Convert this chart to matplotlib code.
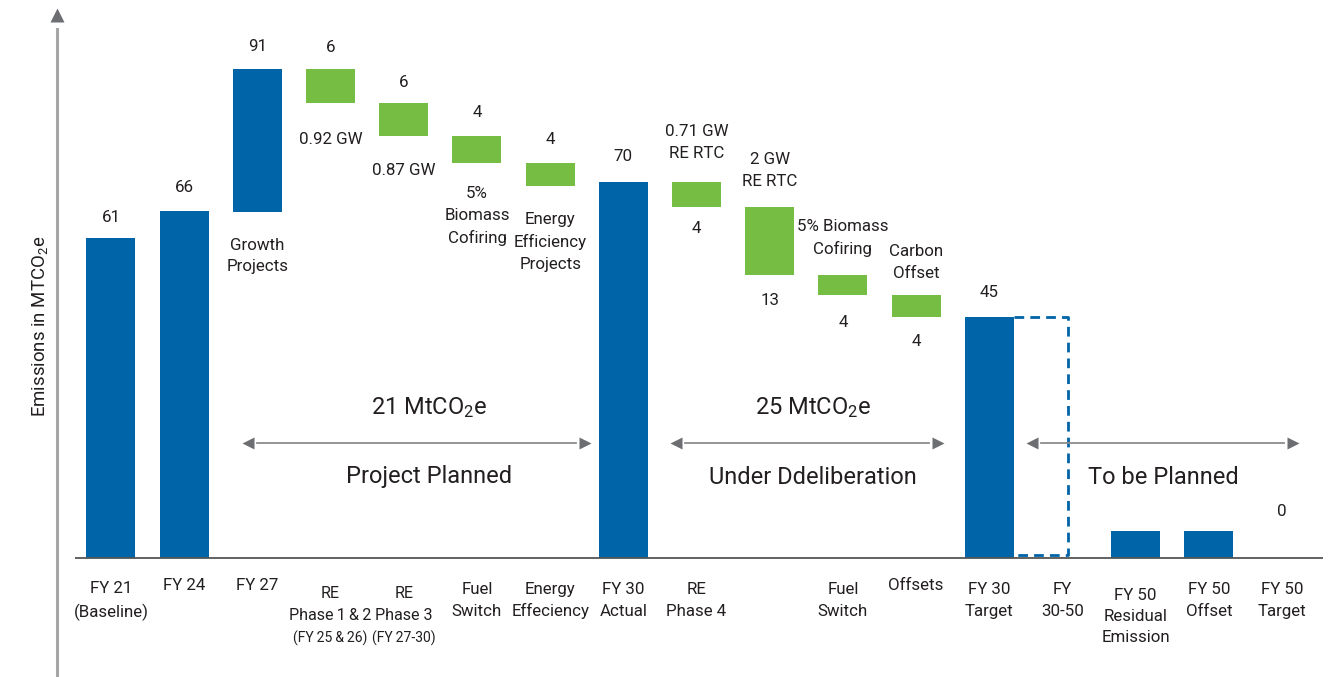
import matplotlib
matplotlib.use("Agg")
import matplotlib.pyplot as plt

plt.rcParams['font.family'] = ['Roboto', 'DejaVu Sans']
plt.rcParams['mathtext.fontset'] = 'custom'
plt.rcParams['mathtext.rm'] = 'Roboto'
plt.rcParams['mathtext.it'] = 'Roboto:italic'

TS = "\u2009"  # thin space for the crowded labels

# ---------------- data ----------------
categories = ["FY 21\n(Baseline)", "FY 24", "FY 27",
              "RE\nPhase" + TS + "1" + TS + "&" + TS + "2\n(FY" + TS + "25" + TS + "&" + TS + "26)",
              "RE\nPhase 3\n(FY" + TS + "27-30)", "Fuel\nSwitch", "Energy\nEffeciency",
              "FY 30\nActual", "RE\nPhase 4", "", "Fuel\nSwitch", "Offsets",
              "FY 30\nTarget", "FY\n30-50", "FY 50\nResidual\nEmission",
              "FY 50\nOffset", "FY 50\nTarget"]
# drawn extents
bar_bottom = [0, 0, 64.5, 84.8, 78.5, 73.5, 69.3, 0, 65.4, 52.6, 48.9, 44.9, 0, 0, 0, 0, 0]
bar_top = [59.6, 64.6, 91.1, 91.1, 84.8, 78.5, 73.5, 70.0, 70.0, 65.4, 52.6, 48.9, 44.9, 44.9, 5.0, 5.0, 0]
bar_kind = ["total", "total", "total", "cut", "cut", "cut", "cut", "total", "cut", "cut",
            "cut", "cut", "total", "planned", "total", "total", "none"]
value_labels = ["61", "66", "91", "6", "6", "4", "4", "70", "4", "13", "4", "4", "45", "", "", "", "0"]
note_labels = ["", "", "Growth\nProjects", "0.92 GW", "0.87 GW", "5%\nBiomass\nCofiring",
               "Energy\nEfficiency\nProjects", "", "0.71 GW\nRE RTC", "2 GW\nRE RTC",
               "5% Biomass\nCofiring", "Carbon\nOffset", "", "", "", "", ""]
group_names = ["Project Planned", "Under Ddeliberation", "To be Planned"]
group_totals = ["21 MtCO$_\\mathrm{2}$e", "25 MtCO$_\\mathrm{2}$e", ""]
y_label = "Emissions in MTCO$_\\mathrm{2}$e"

BLUE = "#0064A8"
GREEN = "#76BE43"
GREY = "#6D6E71"
TXT = "#231F20"

# ---------------- layout helpers (pixel -> data mapping) ----------------
W, H = 1335, 677
X0, DX = 111.0, 73.19     # px of first category, px per category
Y0, DY = 558.0, 5.371     # px of zero line, px per unit


def X(px):
    return (px - X0) / DX


def Y(py):
    return (Y0 - py) / DY


fig = plt.figure(figsize=(W / 100, H / 100), dpi=100)
ax = fig.add_axes([0, 0, 1, 1])
ax.set_xlim(X(0), X(W))
ax.set_ylim(Y(H), Y(0))
ax.axis('off')

bw = 49 / DX
n = len(categories)
xs = list(range(n))

for i in xs:
    k = bar_kind[i]
    if k == "none":
        continue
    if k == "planned":
        left = i - 1 + bw / 2
        right = X(1068)
        bot = 0.5
        ax.plot([left, right, right, left], [bar_top[i], bar_top[i], bot, bot],
                color=BLUE, lw=2.0, linestyle=(0, (3.5, 2.2)), zorder=2)
        continue
    ax.bar(i, bar_top[i] - bar_bottom[i], bottom=bar_bottom[i], width=bw,
           color=BLUE if k == "total" else GREEN, zorder=3)

# zero line
ax.plot([X(75), X(1323)], [0, 0], color="#555555", lw=1.3, zorder=4, solid_capstyle='butt')

# y axis arrow
ax.plot([X(57), X(57)], [Y(29), Y(H + 5)], color="#A6A6A6", lw=2.2, clip_on=False)
ax.plot([X(57)], [Y(15)], marker='^', ms=10, color=GREY, mec='none')
ax.text(X(40), Y(326), y_label, rotation=90, ha='center',
        va='center', fontsize=13.4, color=TXT)

fs = 12.2
LS = 1.52
above_offset = {0: 20, 1: 24, 2: 22, 3: 21, 4: 20, 5: 24, 6: 24, 7: 26, 12: 24}
below_offset = {8: 22, 9: 25, 10: 27, 11: 25}
for i in xs:
    t = value_labels[i]
    if not t:
        continue
    if i in below_offset:
        ax.annotate(t, (i, bar_bottom[i]), xytext=(0, -below_offset[i]), textcoords='offset pixels',
                    ha='center', va='center', fontsize=fs, color=TXT)
    elif i in above_offset:
        ax.annotate(t, (i, bar_top[i]), xytext=(0, above_offset[i]), textcoords='offset pixels',
                    ha='center', va='center', fontsize=fs, color=TXT)
    else:
        ax.text(i, Y(511), t, ha='center', va='center', fontsize=fs, color=TXT)

# notes: centre of text block (px)
note_center = {2: 254, 3: 137, 4: 168, 5: 214, 6: 240, 8: 140.5, 9: 168.5, 10: 236, 11: 260.5}
for i in xs:
    t = note_labels[i]
    if not t:
        continue
    ax.text(i, Y(note_center[i] + 2), t, ha='center', va='center', fontsize=fs,
            color=TXT, linespacing=LS)

# category labels: centre of text block (px)
cat_center = [599, 583, 583, 615, 615, 598.5, 598.5, 598.5, 598.5, 598.5, 598.5, 583,
              598.5, 598.5, 614.5, 598.5, 598.5]
crowded = (3, 4)
for i in xs:
    t = categories[i]
    if not t:
        continue
    if i in crowded:
        # draw line by line, last line a bit smaller (condensed look of the original)
        lines = t.split("\n")
        sizes = [11.6, 11.6, 10.1]
        for j, (ln, s) in enumerate(zip(lines, sizes)):
            ax.text(i, Y(593 + 22 * j + 1), ln, ha='center', va='center',
                    fontsize=s, color=TXT)
        continue
    ax.text(i, Y(cat_center[i] + 2), t, ha='center', va='center',
            fontsize=fs, color=TXT, linespacing=LS)

# group brackets
spans = [(243, 590), (671, 943), (1027, 1298)]
centers = [429, 813, 1163]
for (a, b), c, name, tot in zip(spans, centers, group_names, group_totals):
    ya = Y(443)
    ax.plot([X(a + 14), X(b - 14)], [ya, ya], color="#8C8C8C", lw=1.3)
    ax.plot([X(a + 5)], [ya], marker='<', ms=9, color=GREY, mec='none')
    ax.plot([X(b - 5)], [ya], marker='>', ms=9, color=GREY, mec='none')
    ax.text(X(c), Y(477), name, ha='center', va='center', fontsize=17, color=TXT)
    if tot:
        ax.text(X(c), Y(408), tot, ha='center', va='center', fontsize=17, color=TXT)

fig.savefig("out.png", dpi=100)
